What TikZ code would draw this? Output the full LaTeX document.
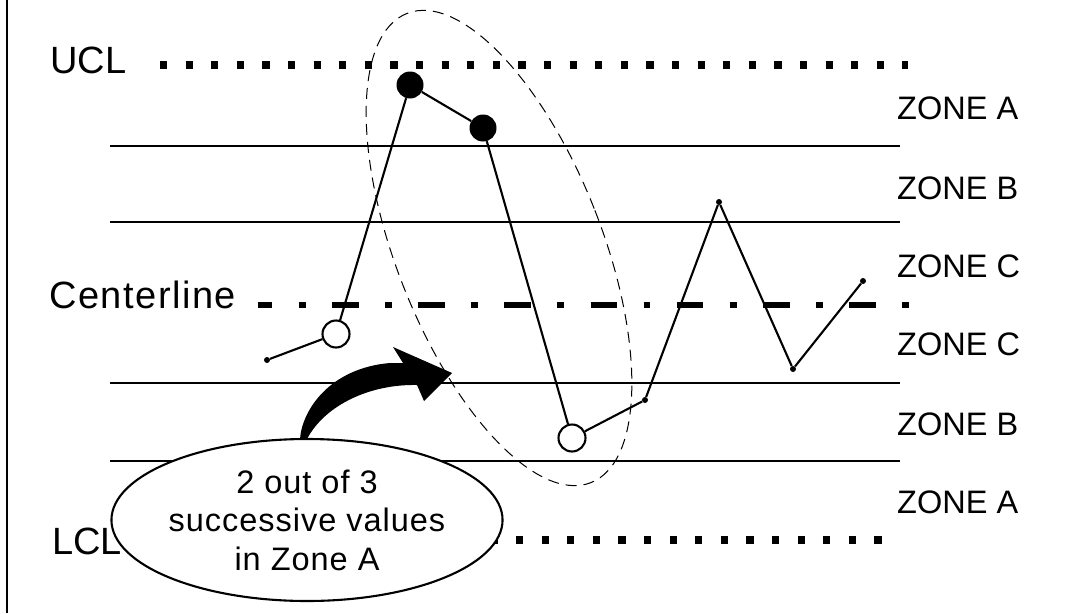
\documentclass[tikz,border=0pt]{standalone}
\usepackage{fontspec}
\setmainfont{Liberation Sans}
\usetikzlibrary{shapes.geometric}
\begin{document}
\begin{tikzpicture}[x=1pt,y=-1pt,
  zoneline/.style={line width=2.1pt},
  limitline/.style={line width=7.2pt, dash pattern=on 7.2pt off 18.4pt},
  centline/.style={line width=6pt, dash pattern=on 26.5pt off 26.5pt on 6.7pt off 26.5pt, dash phase=12.2pt},
  zonelabel/.style={anchor=base west, inner sep=0pt, font=\fontsize{32.5}{38}\selectfont},
  biglabel/.style={anchor=base west, inner sep=0pt, font=\fontsize{38}{45}\selectfont},
  datapt/.style={circle, fill=black, inner sep=0pt, minimum size=6pt},
  openpt/.style={circle, draw, fill=white, line width=2.1pt, inner sep=0pt, minimum size=27pt},
  fullpt/.style={circle, fill=black, inner sep=0pt, minimum size=27pt},
  dataline/.style={line width=2.1pt},
  groupring/.style={line width=1pt, dash pattern=on 11pt off 7pt},
  notebox/.style={ellipse, draw, fill=white, line width=2.1pt, minimum width=338pt, minimum height=162pt, inner sep=0pt, align=center, font=\fontsize{32.5}{38.5}\selectfont\addfontfeature{LetterSpace=3}}
]
\useasboundingbox (0,0) rectangle (1075,613);
% left border
\draw[line width=2.2pt] (7,0) -- (7,613);
% zone boundaries
\draw[zoneline] (110,146) -- (900,146);
\draw[zoneline] (110,222) -- (900,222);
\draw[zoneline] (110,383) -- (900,383);
\draw[zoneline] (110,461) -- (900,461);
% limit lines and centre line
\node[biglabel] (ucl) at (50,73) {UCL};
\node[biglabel] (lcl) at (52,554) {LCL};
\node[biglabel, font=\fontsize{38}{45}\selectfont\addfontfeature{LetterSpace=4}] (cl) at (49,308) {Centerline};
\draw[limitline] (160,65) -- (908,65);
\draw[limitline] (157.5,540) -- (889,540);
\draw[centline] (258,304.5) -- (910,304.5);
% zone labels
\node[zonelabel] (za1) at (897,119) {ZONE A};
\node[zonelabel] (zb1) at (897,199) {ZONE B};
\node[zonelabel] (zc1) at (897,277) {ZONE C};
\node[zonelabel] (zc2) at (897,355) {ZONE C};
\node[zonelabel] (zb2) at (897,435) {ZONE B};
\node[zonelabel] (za2) at (897,513) {ZONE A};
% data points
\node[datapt] (p1) at (267,360) {};
\node[openpt] (p2) at (336,334) {};
\node[fullpt] (p3) at (410,85) {};
\node[fullpt] (p4) at (483,128) {};
\node[openpt] (p5) at (572,438) {};
\node[datapt] (p6) at (645,400) {};
\node[datapt] (p7) at (719,202) {};
\node[datapt] (p8) at (793,369) {};
\node[datapt] (p9) at (863,281) {};
\draw[dataline] (p1) -- (p2);
\draw[dataline] (p2) -- (p3);
\draw[dataline] (p3) -- (p4);
\draw[dataline] (p4) -- (p5);
\draw[dataline] (p5) -- (p6);
\draw[dataline] (p6) -- (p7);
\draw[dataline] (p7) -- (p8);
\draw[dataline] (p8) -- (p9);
% grouping ring
\draw[groupring, rotate around={21.4:(499,248)}] (499,248) ellipse [x radius=103, y radius=252];
% note
\node[notebox] (note) at (307,520) {2 out of 3\\successive values\\in Zone A};
\fill[black] (300,439) .. controls (302,410) and (330,368) .. (390,363) -- (403,363) -- (393,347) -- (452,373) -- (424,401) -- (417,385) .. controls (370,384) and (325,405) .. (307,439) -- cycle;
\end{tikzpicture}
\end{document}
